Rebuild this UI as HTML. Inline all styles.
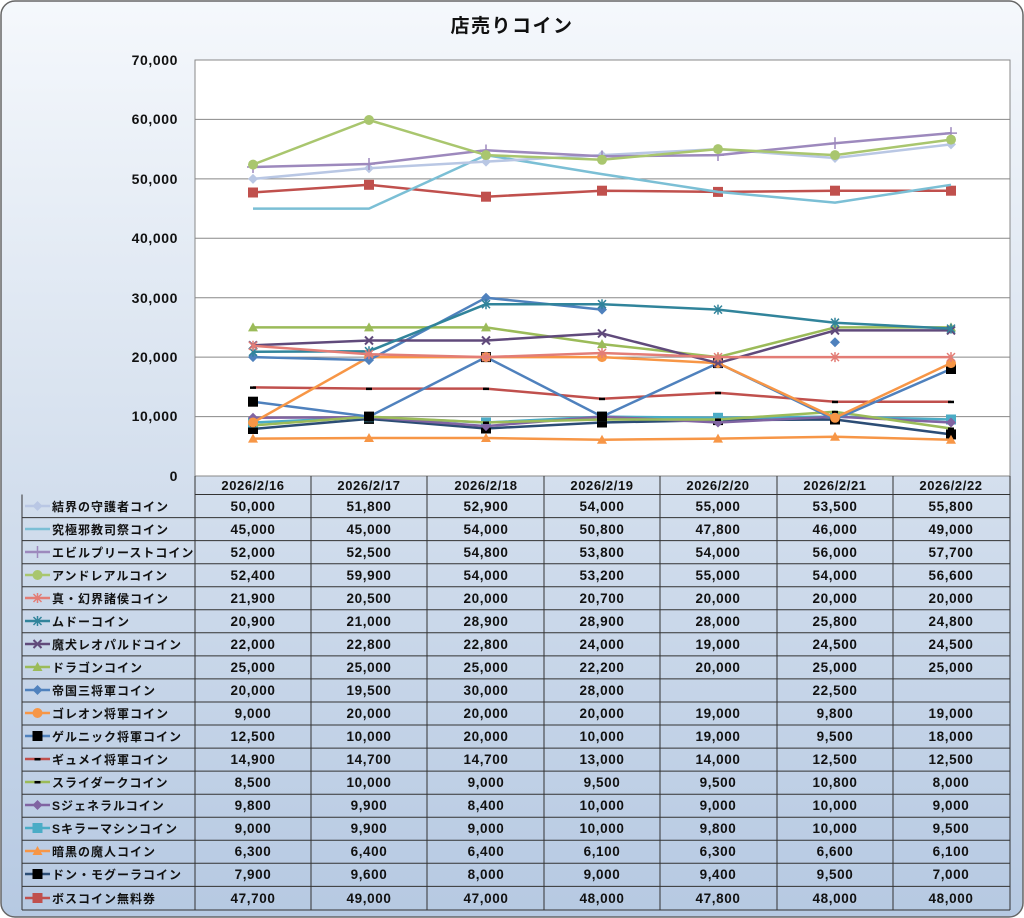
<!DOCTYPE html>
<html><head><meta charset="utf-8"><style>
body{margin:0;background:#fff}
svg{display:block}
text{font-family:"Liberation Sans","Noto Sans CJK JP",sans-serif}
</style></head><body>
<svg width="1024" height="918" viewBox="0 0 1024 918" xmlns="http://www.w3.org/2000/svg">
<defs>
<linearGradient id="bg" x1="0" y1="0" x2="0" y2="1">
<stop offset="0" stop-color="#f5f8fc"/><stop offset="0.5" stop-color="#d5e0ee"/><stop offset="1" stop-color="#b6c9e2"/></linearGradient>
<marker id="dia1" markerUnits="userSpaceOnUse" markerWidth="12" markerHeight="12" refX="6" refY="6"><path d="M6 1L11 6L6 11L1 6Z" fill="#b9c7e4"/></marker>
<marker id="plus3" markerUnits="userSpaceOnUse" markerWidth="12" markerHeight="12" refX="6" refY="6"><path d="M6 0V12M0 6H12" stroke="#9d89bd" stroke-width="1.5"/></marker>
<marker id="cir4" markerUnits="userSpaceOnUse" markerWidth="12" markerHeight="12" refX="6" refY="6"><circle cx="6" cy="6" r="5" fill="#a9c66e"/></marker>
<marker id="st5" markerUnits="userSpaceOnUse" markerWidth="12" markerHeight="12" refX="6" refY="6"><path d="M2 2L10 10M10 2L2 10M6 1V11" stroke="#e37d76" stroke-width="1.5"/></marker>
<marker id="st6" markerUnits="userSpaceOnUse" markerWidth="12" markerHeight="12" refX="6" refY="6"><path d="M2 2L10 10M10 2L2 10M6 1V11" stroke="#31849b" stroke-width="1.5"/></marker>
<marker id="x7" markerUnits="userSpaceOnUse" markerWidth="12" markerHeight="12" refX="6" refY="6"><path d="M2 2L10 10M10 2L2 10" stroke="#604a7b" stroke-width="2"/></marker>
<marker id="tri8" markerUnits="userSpaceOnUse" markerWidth="12" markerHeight="12" refX="6" refY="6"><path d="M6 1L11 10H1Z" fill="#9bbb59"/></marker>
<marker id="dia9" markerUnits="userSpaceOnUse" markerWidth="12" markerHeight="12" refX="6" refY="6"><path d="M6 1L11 6L6 11L1 6Z" fill="#4f81bd"/></marker>
<marker id="cir10" markerUnits="userSpaceOnUse" markerWidth="12" markerHeight="12" refX="6" refY="6"><circle cx="6" cy="6" r="5" fill="#f79646"/></marker>
<marker id="sqk" markerUnits="userSpaceOnUse" markerWidth="12" markerHeight="12" refX="6" refY="6"><rect x="1" y="1" width="10" height="10" fill="#000"/></marker>
<marker id="dsh" markerUnits="userSpaceOnUse" markerWidth="12" markerHeight="12" refX="6" refY="6"><rect x="3" y="5" width="6" height="2.5" fill="#000"/></marker>
<marker id="dia14" markerUnits="userSpaceOnUse" markerWidth="12" markerHeight="12" refX="6" refY="6"><path d="M6 1L11 6L6 11L1 6Z" fill="#8064a2"/></marker>
<marker id="sq15" markerUnits="userSpaceOnUse" markerWidth="12" markerHeight="12" refX="6" refY="6"><rect x="1" y="1" width="10" height="10" fill="#4bacc6"/></marker>
<marker id="tri16" markerUnits="userSpaceOnUse" markerWidth="12" markerHeight="12" refX="6" refY="6"><path d="M6 1L11 10H1Z" fill="#f79646"/></marker>
<marker id="sq18" markerUnits="userSpaceOnUse" markerWidth="12" markerHeight="12" refX="6" refY="6"><rect x="1" y="1" width="10" height="10" fill="#c0504d"/></marker>
</defs>
<rect x="1" y="1" width="1022" height="916" rx="14" fill="url(#bg)" stroke="#666" stroke-width="1.5"/>
<text x="512" y="32" text-anchor="middle" font-size="19" font-weight="bold" fill="#111" letter-spacing="1.5">店売りコイン</text>
<rect x="195" y="60" width="815" height="416" fill="#fff" stroke="#888"/>
<g stroke="#888" stroke-width="1">
<line x1="195" y1="119.4" x2="1010" y2="119.4"/><line x1="195" y1="178.9" x2="1010" y2="178.9"/>
<line x1="195" y1="238.3" x2="1010" y2="238.3"/><line x1="195" y1="297.7" x2="1010" y2="297.7"/>
<line x1="195" y1="357.1" x2="1010" y2="357.1"/><line x1="195" y1="416.6" x2="1010" y2="416.6"/>
</g>
<g font-size="14" font-weight="bold" fill="#111" text-anchor="end" letter-spacing="0.6">
<text x="178" y="65">70,000</text><text x="178" y="124">60,000</text><text x="178" y="184">50,000</text>
<text x="178" y="243">40,000</text><text x="178" y="303">30,000</text><text x="178" y="362">20,000</text>
<text x="178" y="421">10,000</text><text x="178" y="481">0</text>
</g>
<g fill="none" stroke-width="2.5" stroke-linejoin="round">
<polyline stroke="#2c4d75" marker-start="url(#sqk)" marker-mid="url(#sqk)" marker-end="url(#sqk)" points="253,429 369,418.9 486,428.5 602,422.5 718,420.1 835,419.5 951,434.4"/>
<polyline stroke="#f79646" marker-start="url(#tri16)" marker-mid="url(#tri16)" marker-end="url(#tri16)" points="253,438.6 369,438 486,438 602,439.7 718,438.6 835,436.8 951,439.7"/>
<polyline stroke="#4bacc6" marker-start="url(#sq15)" marker-mid="url(#sq15)" marker-end="url(#sq15)" points="253,422.5 369,417.2 486,422.5 602,416.6 718,417.8 835,416.6 951,419.5"/>
<polyline stroke="#8064a2" marker-start="url(#dia14)" marker-mid="url(#dia14)" marker-end="url(#dia14)" points="253,417.8 369,417.2 486,426.1 602,416.6 718,422.5 835,416.6 951,422.5"/>
<polyline stroke="#9bbb59" marker-start="url(#dsh)" marker-mid="url(#dsh)" marker-end="url(#dsh)" points="253,425.5 369,416.6 486,422.5 602,419.5 718,419.5 835,411.8 951,428.5"/>
<polyline stroke="#c0504d" marker-start="url(#dsh)" marker-mid="url(#dsh)" marker-end="url(#dsh)" points="253,387.4 369,388.6 486,388.6 602,398.7 718,392.8 835,401.7 951,401.7"/>
<polyline stroke="#4f81bd" marker-start="url(#sqk)" marker-mid="url(#sqk)" marker-end="url(#sqk)" points="253,401.7 369,416.6 486,357.1 602,416.6 718,363.1 835,419.5 951,369"/>
<polyline stroke="#f79646" marker-start="url(#cir10)" marker-mid="url(#cir10)" marker-end="url(#cir10)" points="253,422.5 369,357.1 486,357.1 602,357.1 718,363.1 835,417.8 951,363.1"/>
<polyline stroke="#4f81bd" marker-start="url(#dia9)" marker-mid="url(#dia9)" marker-end="url(#dia9)" points="253,357.1 369,360.1 486,297.7 602,309.6"/>
<path stroke="#4f81bd" marker-start="url(#dia9)" d="M835,342.3 l0,0"/>
<polyline stroke="#9bbb59" marker-start="url(#tri8)" marker-mid="url(#tri8)" marker-end="url(#tri8)" points="253,327.4 369,327.4 486,327.4 602,344.1 718,357.1 835,327.4 951,327.4"/>
<polyline stroke="#604a7b" marker-start="url(#x7)" marker-mid="url(#x7)" marker-end="url(#x7)" points="253,345.3 369,340.5 486,340.5 602,333.4 718,363.1 835,330.4 951,330.4"/>
<polyline stroke="#31849b" marker-start="url(#st6)" marker-mid="url(#st6)" marker-end="url(#st6)" points="253,351.8 369,351.2 486,304.2 602,304.2 718,309.6 835,322.7 951,328.6"/>
<polyline stroke="#e37d76" marker-start="url(#st5)" marker-mid="url(#st5)" marker-end="url(#st5)" points="253,345.8 369,354.2 486,357.1 602,353 718,357.1 835,357.1 951,357.1"/>
<polyline stroke="#c0504d" marker-start="url(#sq18)" marker-mid="url(#sq18)" marker-end="url(#sq18)" points="253,192.5 369,184.8 486,196.7 602,190.7 718,191.9 835,190.7 951,190.7"/>
<polyline stroke="#7bbfd5" points="253,208.6 369,208.6 486,155.1 602,174.1 718,191.9 835,202.6 951,184.8"/>
<polyline stroke="#b9c7e4" marker-start="url(#dia1)" marker-mid="url(#dia1)" marker-end="url(#dia1)" points="253,178.9 369,168.2 486,161.6 602,155.1 718,149.1 835,158 951,144.4"/>
<polyline stroke="#9d89bd" marker-start="url(#plus3)" marker-mid="url(#plus3)" marker-end="url(#plus3)" points="253,167 369,164 486,150.3 602,156.3 718,155.1 835,143.2 951,133.1"/>
<polyline stroke="#a9c66e" marker-start="url(#cir4)" marker-mid="url(#cir4)" marker-end="url(#cir4)" points="253,164.6 369,120 486,155.1 602,159.8 718,149.1 835,155.1 951,139.6"/>
</g>
<g stroke="#333" stroke-width="1" fill="none">
<path d="M195 476V910M311 476V910M427 476V910M544 476V910M660 476V910M777 476V910M893 476V910M1010 476V910M195 494.5H1010"/>
<path d="M22 494.5V910M22 910H1010"/>
<path d="M22 517.6H1010M22 540.6H1010M22 563.7H1010M22 586.7H1010M22 609.8H1010M22 632.8H1010M22 655.9H1010M22 678.9H1010M22 702H1010M22 725H1010M22 748.1H1010M22 771.1H1010M22 794.2H1010M22 817.2H1010M22 840.3H1010M22 863.3H1010M22 886.4H1010"/>
</g>
<g font-size="13" font-weight="bold" fill="#111" text-anchor="middle" letter-spacing="0.6">
<text x="253" y="490">2026/2/16</text><text x="369" y="490">2026/2/17</text><text x="486" y="490">2026/2/18</text><text x="602" y="490">2026/2/19</text><text x="718" y="490">2026/2/20</text><text x="835" y="490">2026/2/21</text><text x="951" y="490">2026/2/22</text>
</g>
<g stroke-width="2.5">
<path d="M25 506H37.5H50" stroke="#b9c7e4" marker-mid="url(#dia1)"/>
<path d="M25 529H50" stroke="#7bbfd5"/>
<path d="M25 552H37.5H50" stroke="#9d89bd" marker-mid="url(#plus3)"/>
<path d="M25 575H37.5H50" stroke="#a9c66e" marker-mid="url(#cir4)"/>
<path d="M25 598H37.5H50" stroke="#e37d76" marker-mid="url(#st5)"/>
<path d="M25 621H37.5H50" stroke="#31849b" marker-mid="url(#st6)"/>
<path d="M25 644H37.5H50" stroke="#604a7b" marker-mid="url(#x7)"/>
<path d="M25 667H37.5H50" stroke="#9bbb59" marker-mid="url(#tri8)"/>
<path d="M25 690H37.5H50" stroke="#4f81bd" marker-mid="url(#dia9)"/>
<path d="M25 713H37.5H50" stroke="#f79646" marker-mid="url(#cir10)"/>
<path d="M25 736H37.5H50" stroke="#4f81bd" marker-mid="url(#sqk)"/>
<path d="M25 759H37.5H50" stroke="#c0504d" marker-mid="url(#dsh)"/>
<path d="M25 782H37.5H50" stroke="#9bbb59" marker-mid="url(#dsh)"/>
<path d="M25 805H37.5H50" stroke="#8064a2" marker-mid="url(#dia14)"/>
<path d="M25 828H37.5H50" stroke="#4bacc6" marker-mid="url(#sq15)"/>
<path d="M25 851H37.5H50" stroke="#f79646" marker-mid="url(#tri16)"/>
<path d="M25 874H37.5H50" stroke="#2c4d75" marker-mid="url(#sqk)"/>
<path d="M25 898H37.5H50" stroke="#c0504d" marker-mid="url(#sq18)"/>
</g>
<g font-size="12" font-weight="bold" fill="#111" letter-spacing="1">
<text x="52" y="511">結界の守護者コイン</text><text x="52" y="534">究極邪教司祭コイン</text><text x="52" y="557">エビルプリーストコイン</text><text x="52" y="580">アンドレアルコイン</text><text x="52" y="603">真・幻界諸侯コイン</text><text x="52" y="626">ムドーコイン</text><text x="52" y="649">魔犬レオパルドコイン</text><text x="52" y="672">ドラゴンコイン</text><text x="52" y="695">帝国三将軍コイン</text><text x="52" y="718">ゴレオン将軍コイン</text><text x="52" y="741">ゲルニック将軍コイン</text><text x="52" y="764">ギュメイ将軍コイン</text><text x="52" y="787">スライダークコイン</text><text x="52" y="810">Sジェネラルコイン</text><text x="52" y="833">Sキラーマシンコイン</text><text x="52" y="856">暗黒の魔人コイン</text><text x="52" y="879">ドン・モグーラコイン</text><text x="52" y="903">ボスコイン無料券</text>
</g>
<g font-size="13.5" font-weight="bold" fill="#111" text-anchor="middle" letter-spacing="0.6">
<text y="511"><tspan x="253">50,000</tspan><tspan x="369">51,800</tspan><tspan x="486">52,900</tspan><tspan x="602">54,000</tspan><tspan x="718">55,000</tspan><tspan x="835">53,500</tspan><tspan x="951">55,800</tspan></text>
<text y="534"><tspan x="253">45,000</tspan><tspan x="369">45,000</tspan><tspan x="486">54,000</tspan><tspan x="602">50,800</tspan><tspan x="718">47,800</tspan><tspan x="835">46,000</tspan><tspan x="951">49,000</tspan></text>
<text y="557"><tspan x="253">52,000</tspan><tspan x="369">52,500</tspan><tspan x="486">54,800</tspan><tspan x="602">53,800</tspan><tspan x="718">54,000</tspan><tspan x="835">56,000</tspan><tspan x="951">57,700</tspan></text>
<text y="580"><tspan x="253">52,400</tspan><tspan x="369">59,900</tspan><tspan x="486">54,000</tspan><tspan x="602">53,200</tspan><tspan x="718">55,000</tspan><tspan x="835">54,000</tspan><tspan x="951">56,600</tspan></text>
<text y="603"><tspan x="253">21,900</tspan><tspan x="369">20,500</tspan><tspan x="486">20,000</tspan><tspan x="602">20,700</tspan><tspan x="718">20,000</tspan><tspan x="835">20,000</tspan><tspan x="951">20,000</tspan></text>
<text y="626"><tspan x="253">20,900</tspan><tspan x="369">21,000</tspan><tspan x="486">28,900</tspan><tspan x="602">28,900</tspan><tspan x="718">28,000</tspan><tspan x="835">25,800</tspan><tspan x="951">24,800</tspan></text>
<text y="649"><tspan x="253">22,000</tspan><tspan x="369">22,800</tspan><tspan x="486">22,800</tspan><tspan x="602">24,000</tspan><tspan x="718">19,000</tspan><tspan x="835">24,500</tspan><tspan x="951">24,500</tspan></text>
<text y="672"><tspan x="253">25,000</tspan><tspan x="369">25,000</tspan><tspan x="486">25,000</tspan><tspan x="602">22,200</tspan><tspan x="718">20,000</tspan><tspan x="835">25,000</tspan><tspan x="951">25,000</tspan></text>
<text y="695"><tspan x="253">20,000</tspan><tspan x="369">19,500</tspan><tspan x="486">30,000</tspan><tspan x="602">28,000</tspan><tspan x="835">22,500</tspan></text>
<text y="718"><tspan x="253">9,000</tspan><tspan x="369">20,000</tspan><tspan x="486">20,000</tspan><tspan x="602">20,000</tspan><tspan x="718">19,000</tspan><tspan x="835">9,800</tspan><tspan x="951">19,000</tspan></text>
<text y="741"><tspan x="253">12,500</tspan><tspan x="369">10,000</tspan><tspan x="486">20,000</tspan><tspan x="602">10,000</tspan><tspan x="718">19,000</tspan><tspan x="835">9,500</tspan><tspan x="951">18,000</tspan></text>
<text y="764"><tspan x="253">14,900</tspan><tspan x="369">14,700</tspan><tspan x="486">14,700</tspan><tspan x="602">13,000</tspan><tspan x="718">14,000</tspan><tspan x="835">12,500</tspan><tspan x="951">12,500</tspan></text>
<text y="787"><tspan x="253">8,500</tspan><tspan x="369">10,000</tspan><tspan x="486">9,000</tspan><tspan x="602">9,500</tspan><tspan x="718">9,500</tspan><tspan x="835">10,800</tspan><tspan x="951">8,000</tspan></text>
<text y="810"><tspan x="253">9,800</tspan><tspan x="369">9,900</tspan><tspan x="486">8,400</tspan><tspan x="602">10,000</tspan><tspan x="718">9,000</tspan><tspan x="835">10,000</tspan><tspan x="951">9,000</tspan></text>
<text y="833"><tspan x="253">9,000</tspan><tspan x="369">9,900</tspan><tspan x="486">9,000</tspan><tspan x="602">10,000</tspan><tspan x="718">9,800</tspan><tspan x="835">10,000</tspan><tspan x="951">9,500</tspan></text>
<text y="856"><tspan x="253">6,300</tspan><tspan x="369">6,400</tspan><tspan x="486">6,400</tspan><tspan x="602">6,100</tspan><tspan x="718">6,300</tspan><tspan x="835">6,600</tspan><tspan x="951">6,100</tspan></text>
<text y="879"><tspan x="253">7,900</tspan><tspan x="369">9,600</tspan><tspan x="486">8,000</tspan><tspan x="602">9,000</tspan><tspan x="718">9,400</tspan><tspan x="835">9,500</tspan><tspan x="951">7,000</tspan></text>
<text y="903"><tspan x="253">47,700</tspan><tspan x="369">49,000</tspan><tspan x="486">47,000</tspan><tspan x="602">48,000</tspan><tspan x="718">47,800</tspan><tspan x="835">48,000</tspan><tspan x="951">48,000</tspan></text>
</g>
</svg>
</body></html>
